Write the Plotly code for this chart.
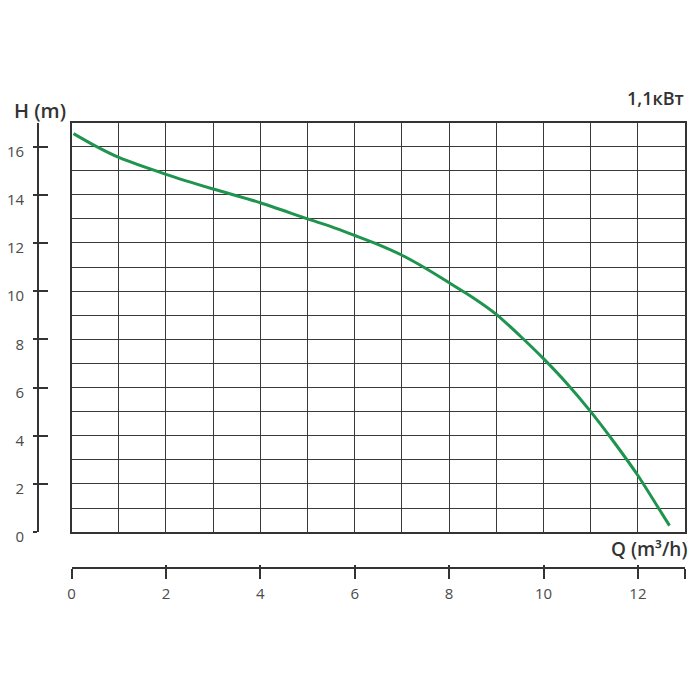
import plotly.graph_objects as go

# Data
Q = [0.04, 0.5, 1, 2, 3, 4, 5, 5.5, 6, 6.5, 7, 7.5, 8, 8.5, 9, 9.5, 10, 10.5, 11, 11.5, 12, 12.5, 12.67]
H = [16.54, 16.03, 15.55, 14.85, 14.24, 13.67, 13.0, 12.68, 12.31, 11.93, 11.49, 10.95, 10.35, 9.74, 9.04, 8.15, 7.2, 6.16, 5.0, 3.72, 2.35, 0.8, 0.27]

y_tickvals = [0, 2, 4, 6, 8, 10, 12, 14, 16]
y_ticktext = ["0", "2", "4", "6", "8", "10", "12", "14", "16"]
x_tickvals = [0, 2, 4, 6, 8, 10, 12, 13]
x_ticktext = ["0", "2", "4", "6", "8", "10", "12", ""]

title_power = "1,1кВт"
label_h = "H (m)"
label_q = "Q (m³/h)"

W = 700
HGT = 700
line_col = "#333333"
grid_col = "#3a3a3a"
font_fam = "Open Sans"

fig = go.Figure()
fig.add_trace(go.Scatter(x=Q, y=H, mode="lines",
                         line=dict(color="#1f944e", width=3, shape="spline", smoothing=0.7),
                         hoverinfo="skip", showlegend=False))
# invisible traces to attach the detached axes
for xa, ya in [("x2", "y"), ("x3", "y"), ("x", "y2"), ("x", "y3")]:
    fig.add_trace(go.Scatter(x=Q, y=H, xaxis=xa, yaxis=ya, mode="lines",
                             line=dict(color="rgba(0,0,0,0)", width=0),
                             hoverinfo="skip", showlegend=False))

xdom = [68 / W, 685 / W]
ydom = [(HGT - 543) / HGT, (HGT - 125) / HGT]
tickfont = dict(size=15, color="#4a4a4a", family=font_fam)

fig.update_layout(
    width=W, height=HGT,
    margin=dict(l=0, r=0, t=0, b=0),
    paper_bgcolor="white", plot_bgcolor="white",
    font=dict(family=font_fam, color="#333333"),
    hovermode=False,
    xaxis=dict(domain=xdom, range=[0, 13], dtick=1, tick0=0, showgrid=True,
               gridcolor=grid_col, gridwidth=1.4, showticklabels=False, ticks="",
               showline=True, mirror=True, linecolor=line_col, linewidth=1.6,
               zeroline=False, fixedrange=True),
    yaxis=dict(domain=ydom, range=[0, 17], dtick=1, tick0=0, showgrid=True,
               gridcolor=grid_col, gridwidth=1.4, showticklabels=False, ticks="",
               showline=True, mirror=True, linecolor=line_col, linewidth=1.6,
               zeroline=False, fixedrange=True),
    xaxis2=dict(overlaying="x", anchor="free", position=(HGT - 580) / HGT,
                range=[0, 13], tickmode="array", tickvals=x_tickvals, ticktext=x_ticktext,
                ticks="outside", ticklen=10, tickwidth=1.5, tickcolor=line_col,
                showline=True, linecolor=line_col, linewidth=1.5, showgrid=False,
                zeroline=False, ticklabelstandoff=2, tickfont=tickfont),
    xaxis3=dict(overlaying="x", anchor="free", position=(HGT - 580) / HGT,
                range=[0, 13], tickmode="array", tickvals=x_tickvals,
                ticks="inside", ticklen=3, tickwidth=1.5, tickcolor=line_col,
                showticklabels=False, showline=False, showgrid=False, zeroline=False),
    yaxis2=dict(overlaying="y", anchor="free", position=34 / W, side="left",
                range=[0, 17], tickmode="array", tickvals=y_tickvals, ticktext=y_ticktext,
                ticks="outside", ticklen=4, tickwidth=1.5, tickcolor=line_col,
                showline=True, linecolor=line_col, linewidth=1.5, showgrid=False,
                zeroline=False, ticklabelshift=5, ticklabelstandoff=6, tickfont=tickfont),
    yaxis3=dict(overlaying="y", anchor="free", position=34 / W, side="left",
                range=[0, 17], tickmode="array", tickvals=y_tickvals,
                ticks="inside", ticklen=9, tickwidth=1.5, tickcolor=line_col,
                showticklabels=False, showline=False, showgrid=False, zeroline=False),
    annotations=[
        dict(text=label_h, xref="paper", yref="paper", x=8 / W, y=(HGT - 113) / HGT,
             xanchor="left", yanchor="middle", showarrow=False,
             font=dict(size=20, color="#333333", family=font_fam, weight=600)),
        dict(text=title_power, xref="paper", yref="paper", x=686 / W, y=(HGT - 100) / HGT,
             xanchor="right", yanchor="middle", showarrow=False,
             font=dict(size=18, color="#333333", family=font_fam, weight=600)),
        dict(text=label_q, xref="paper", yref="paper", x=689 / W, y=(HGT - 560) / HGT,
             xanchor="right", yanchor="middle", showarrow=False,
             font=dict(size=19, color="#333333", family=font_fam, weight=600)),
    ],
)

fig.write_html(
    "out.html",
    config={"displayModeBar": False, "responsive": False},
    post_script=(
        "document.documentElement.style.margin='0';"
        "document.documentElement.style.padding='0';"
        "document.documentElement.style.overflow='hidden';"
        "document.body.style.margin='0';"
        "document.body.style.padding='0';"
        "document.body.style.overflow='hidden';"
    ),
)
